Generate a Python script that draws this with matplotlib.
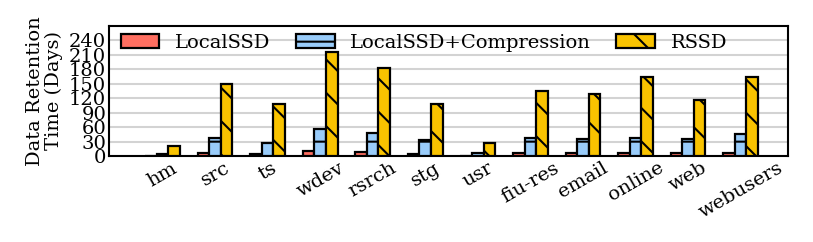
import numpy as np
import matplotlib.pyplot as plt

plt.rcParams['font.family'] = ['DejaVu Serif']
plt.rcParams['hatch.linewidth'] = 1.5

traces = ['hm', 'src', 'ts', 'wdev', 'rsrch', 'stg', 'usr', 'fiu-res',
          'email', 'online', 'web', 'webusers']
local_ssd = [1, 7, 4, 10, 9, 5, 1, 7, 7, 7, 7, 7]
local_comp = [5, 37, 27, 56, 48, 33, 6, 37, 35, 38, 35, 46]
rssd = [20, 150, 108, 215, 182, 108, 28, 136, 128, 163, 117, 163]

series = [('LocalSSD', local_ssd, '#FF6F61', ''),
          ('LocalSSD+Compression', local_comp, '#99CCFA', '-'),
          ('RSSD', rssd, '#F9C300', '\\')]

fig = plt.figure(figsize=(8.13, 2.42), dpi=100)
ax = fig.add_axes([0.134, 0.355, 0.835, 0.538])

x = np.arange(len(traces))
w = 0.22
for i, (name, vals, col, hatch) in enumerate(series):
    ax.bar(x + (i - 1) * w, vals, w, color=col, edgecolor='black',
           linewidth=1.6, hatch=hatch, label=name, zorder=3)

ax.set_xlim(-1.02, 11.9)
ax.set_ylim(0, 270)
ax.set_yticks(np.arange(0, 241, 30))
ax.tick_params(axis='both', length=0, labelsize=14, pad=2)
ax.set_xticks(x)
ax.set_xticklabels(traces, rotation=30, ha='center')
ax.yaxis.grid(True, color='#d3d3d3', linewidth=1.5, zorder=0)
ax.set_axisbelow(True)
for s in ax.spines.values():
    s.set_linewidth(1.5)

ax.set_ylabel('Data Retention\nTime (Days)', fontsize=14, labelpad=4,
              linespacing=1.1)
ax.legend(loc='upper left', ncol=3, frameon=False, fontsize=14,
          handlelength=2.0, handleheight=0.7, handletextpad=0.8,
          columnspacing=1.3, borderaxespad=0.2,
          bbox_to_anchor=(0.0, 1.03))

fig.savefig('out.png', dpi=100)
